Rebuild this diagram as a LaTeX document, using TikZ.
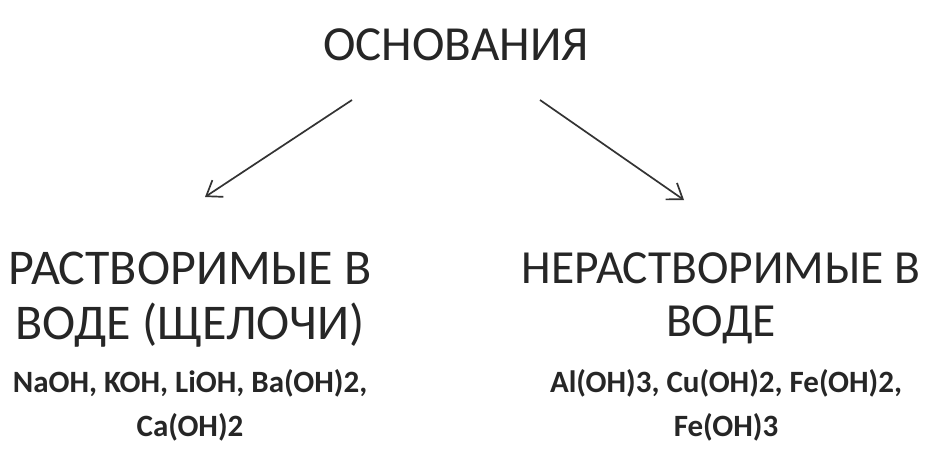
\documentclass[tikz,border=0pt]{standalone}
\usepackage{fontspec}
\usetikzlibrary{arrows.meta}
\setmainfont{Carlito}
\begin{document}
\begin{tikzpicture}[x=1pt,y=1pt,
  big/.style={font=\fontsize{50}{52}\selectfont, text=black!85, inner sep=0pt},
  bigr/.style={font=\fontsize{47.5}{50}\selectfont, text=black!85, inner sep=0pt},
  title/.style={font=\fontsize{49}{51}\selectfont, text=black!85, inner sep=0pt},
  form/.style={font=\bfseries\fontsize{31}{33}\selectfont, text=black!85, inner sep=0pt},
  arr/.style={-{Straight Barb[length=14pt,width=20pt]}, line width=1.7pt, black!80}]
\useasboundingbox (0,0) rectangle (940,-460);
\fill[white] (0,0) rectangle (940,-460);
\node[title] (t) at (456,-45) {ОСНОВАНИЯ};
\coordinate (a1) at (352,-100);
\coordinate (b1) at (540,-100);
\node[big] (l1) at (190,-268) {РАСТВОРИМЫЕ В};
\node[big] (l2) at (190,-325) {ВОДЕ (ЩЕЛОЧИ)};
\node[form] (l3) at (190,-383) {NaOH, KOH, LiOH, Ba(OH)2,};
\node[form] (l4) at (190,-427) {Ca(OH)2};
\node[bigr] (r1) at (721,-268) {НЕРАСТВОРИМЫЕ В};
\node[bigr] (r2) at (721,-325) {ВОДЕ};
\node[form] (r3) at (726,-383) {Al(OH)3, Cu(OH)2, Fe(OH)2,};
\node[form] (r4) at (726,-427) {Fe(OH)3};
\coordinate (a2) at (205,-197);
\coordinate (b2) at (684,-200);
\draw[arr] (a1) -- (a2);
\draw[arr] (b1) -- (b2);
\end{tikzpicture}
\end{document}
